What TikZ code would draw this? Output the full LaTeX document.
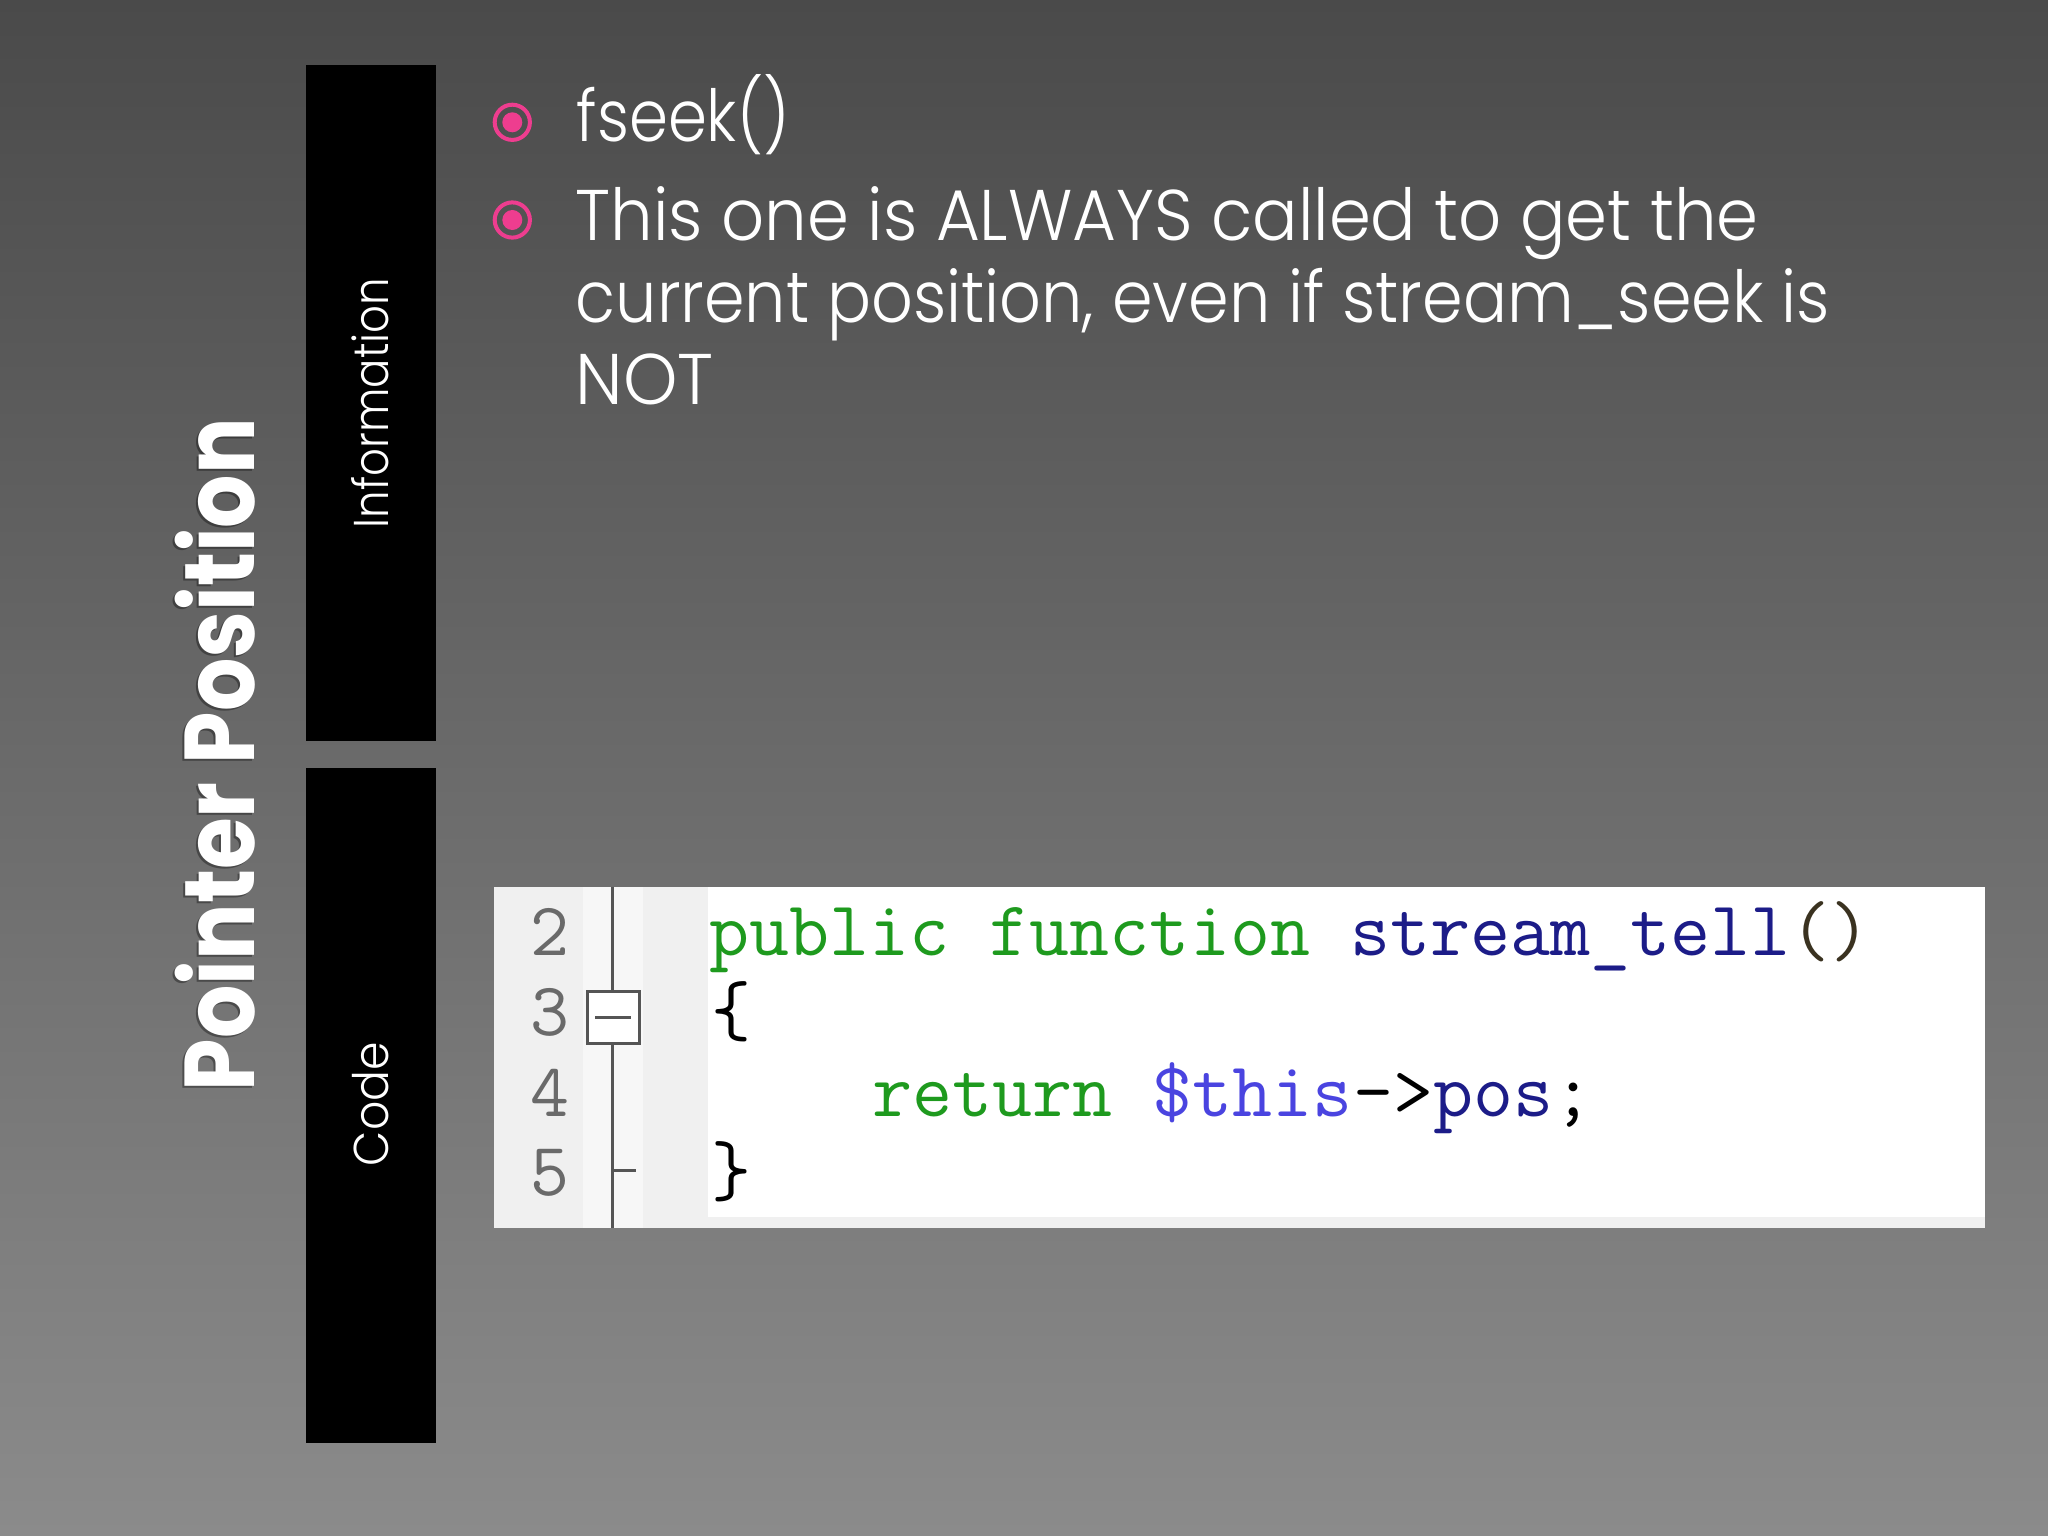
\documentclass[tikz,border=0pt]{standalone}
\usepackage{fontspec}
\setmainfont{Poppins}
\newfontfamily\lightfont{Poppins Light}
\usepackage{graphicx}
\newlength\pxu
\setlength\pxu{0.01cm}
\definecolor{bgtop}{HTML}{4A4A4A}
\definecolor{bgbot}{HTML}{8B8B8B}
\definecolor{bulletpink}{HTML}{EE3D8F}
\definecolor{gutter}{HTML}{F0F0F0}
\definecolor{hatch}{HTML}{F7F7F7}
\definecolor{foldline}{HTML}{555555}
\definecolor{lnum}{HTML}{6A6A6A}
\definecolor{kwgreen}{HTML}{1E9A1E}
\definecolor{fnblue}{HTML}{1C1C88}
\definecolor{varblue}{HTML}{4A44E0}
\definecolor{parbrown}{HTML}{3A3220}
\tikzset{
  sidebox/.style={fill=black},
  sidelabel/.style={text=white, inner sep=0pt, rotate=90, anchor=base,
    font=\lightfont\fontsize{13.9pt}{16pt}\selectfont},
  bullettext/.style={text=white, inner sep=0pt, anchor=base west,
    font=\lightfont\fontsize{20.4pt}{24pt}\selectfont},
  bulletring/.style={circle, draw=bulletpink, line width=1.14pt,
    minimum size=0.352cm, inner sep=0pt},
  codeline/.style={inner sep=0pt, anchor=base west,
    font=\ttfamily\fontsize{22.1pt}{24pt}\selectfont},
  linenum/.style={inner sep=0pt, anchor=base, text=lnum,
    font=\ttfamily\fontsize{21.5pt}{24pt}\selectfont},
  foldstroke/.style={draw=foldline, line width=0.85pt},
}
\begin{document}
\begin{tikzpicture}[x=0.01cm, y=-0.01cm]
\useasboundingbox (0,0) rectangle (2048,1536);
% background
\shade[top color=bgtop, bottom color=bgbot] (0,0) rectangle (2048,1536);

% side boxes
\fill[sidebox] (305.6,65.3) rectangle (436.2,740.6);
\fill[sidebox] (305.6,768) rectangle (436.2,1443);
\node[sidelabel] (info) at (388,403) {\resizebox{250\pxu}{\height}{Information}};
\node[sidelabel] (code) at (388,1104) {\resizebox{124\pxu}{\height}{Code}};

% title with shadow
\node[text=black, opacity=0.35, inner sep=0pt, rotate=90, anchor=base,
  font=\fontsize{28.2pt}{32pt}\selectfont\bfseries] (titleshadow) at (252,756.5)
  {\resizebox{673\pxu}{\height}{Pointer Position}};
\node[text=white, inner sep=0pt, rotate=90, anchor=base,
  font=\fontsize{28.2pt}{32pt}\selectfont\bfseries] (title) at (254,754.5)
  {\resizebox{673\pxu}{\height}{Pointer Position}};

% bullets
\node[bulletring] (b1) at (512.3,122.3) {};
\fill[bulletpink] (b1.center) circle[radius=10];
\node[bulletring] (b2) at (512.3,220) {};
\fill[bulletpink] (b2.center) circle[radius=10];

\node[bullettext] (t1) at (576,141.7) {\resizebox{213\pxu}{\height}{fseek()}};
\node[bullettext] (t2) at (575,240) {\resizebox{1183\pxu}{\height}{This one is ALWAYS called to get the}};
\node[bullettext] (t3) at (575,322) {\resizebox{1254\pxu}{\height}{current position, even if stream\_seek is}};
\node[bullettext] (t4) at (575,404) {\resizebox{138\pxu}{\height}{NOT}};

% code panel
\fill[gutter] (494,886.7) rectangle (708,1228);
\fill[hatch] (583,886.7) rectangle (643,1228);
\fill[white] (708,886.7) rectangle (1985,1217);
\fill[gutter] (708,1217) rectangle (1985,1228);
\coordinate (foldtop) at (612.7,886.7);
\coordinate (foldbot) at (612.7,1228);
\draw[foldstroke] (foldtop) -- (foldbot);
\node[foldstroke, fill=white, rectangle, minimum width=0.517cm, minimum height=0.513cm,
  inner sep=0pt] (fold) at (613.2,1017.4) {};
\draw[foldstroke] ([xshift=-0.18cm]fold.center) -- ([xshift=0.18cm]fold.center);
\coordinate (tickstart) at (612.7,1170);
\coordinate (tickend) at (636,1170);
\draw[foldstroke] (tickstart) -- (tickend);

% line numbers
\node[linenum] (n2) at (550,955) {2};
\node[linenum] (n3) at (550,1035) {3};
\node[linenum] (n4) at (550,1116) {4};
\node[linenum] (n5) at (550,1195) {5};

% code lines
\node[codeline] (c2) at (709,955) {\textcolor{kwgreen}{public function} \textcolor{fnblue}{stream\_tell}\textcolor{parbrown}{()}};
\node[codeline] (c3) at (711,1035) {\textcolor{black}{\{}};
\node[codeline] (c4) at (872,1116) {\textcolor{kwgreen}{return} \textcolor{varblue}{\$this}\textcolor{black}{->}\textcolor{fnblue}{pos}\textcolor{black}{;}};
\node[codeline] (c5) at (711,1195) {\textcolor{black}{\}}};
\end{tikzpicture}
\end{document}
